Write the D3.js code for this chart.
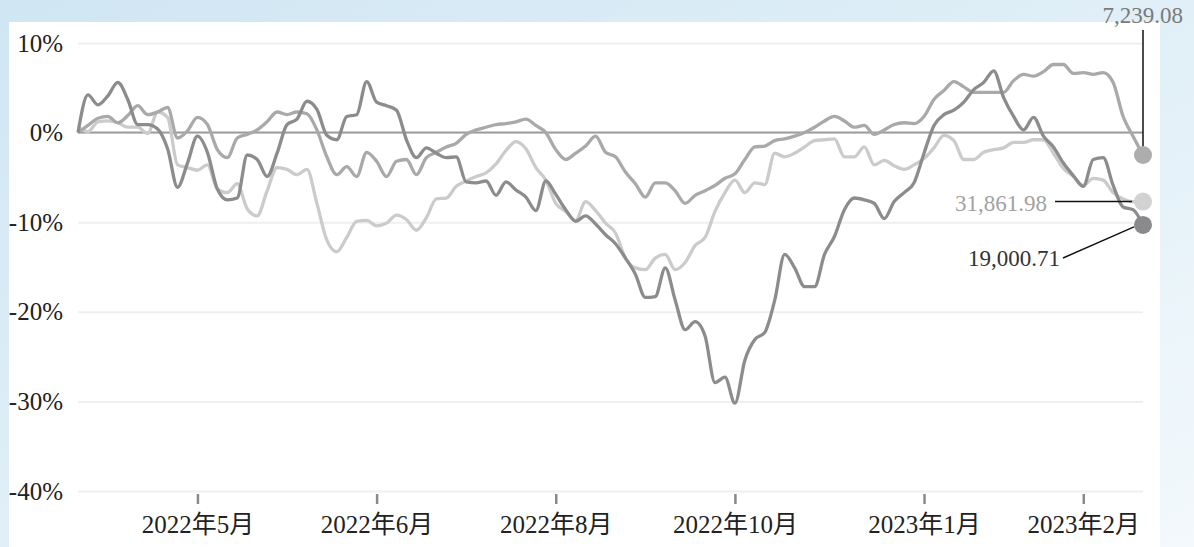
<!DOCTYPE html>
<html>
<head>
<meta charset="utf-8">
<script src="https://cdn.jsdelivr.net/npm/d3@7"></script>
<style>
  html, body { margin: 0; padding: 0; }
  body { width: 1194px; height: 547px; overflow: hidden; }
</style>
</head>
<body>
<div id="chart-area"></div>
<script>
// % change since start, one value per sampled trading day
const seriesDark = [0.0, 4.2, 3.1, 4.1, 5.6, 3.7, 0.9, 0.9, 0.4, -1.8,
  -6.1, -3.4, -0.4, -2.2, -6.3, -7.5, -7.3, -2.5, -3.0, -4.9,
  -2.3, 0.9, 1.5, 3.5, 2.6, -0.3, -0.8, 1.8, 2.0, 5.7,
  3.4, 3.0, 2.5, -0.8, -2.8, -1.7, -2.3, -2.8, -2.7, -5.5,
  -5.6, -5.4, -7.0, -5.5, -6.4, -7.2, -8.7, -5.4, -6.9, -8.6,
  -9.9, -9.3, -10.2, -11.4, -12.4, -14.0, -15.8, -18.4, -18.3, -15.1,
  -18.7, -22.0, -21.1, -22.7, -27.9, -27.3, -30.2, -25.4, -23.1, -22.3,
  -18.7, -13.6, -15.1, -17.2, -17.2, -13.6, -11.6, -8.6, -7.3, -7.5,
  -7.9, -9.6, -7.7, -6.7, -5.6, -2.3, 0.8, 2.0, 2.5, 3.4,
  4.8, 5.6, 6.9, 3.9, 1.8, 0.3, 1.7, -0.4, -1.6, -3.4,
  -4.8, -6.0, -3.0, -2.8, -5.9, -8.3, -8.6, -10.3];

const seriesMid = [0.0, 0.8, 1.6, 1.8, 1.1, 1.9, 3.0, 2.0, 2.3, 2.8,
  -0.6, 0.2, 1.7, 0.9, -1.9, -2.8, -0.6, -0.2, 0.3, 1.2,
  2.3, 2.0, 2.3, 2.1, 0.3, -2.7, -4.7, -3.8, -4.9, -2.2,
  -3.2, -4.9, -3.2, -3.0, -4.7, -2.8, -2.2, -1.6, -1.2, -0.2,
  0.3, 0.6, 0.9, 1.0, 1.2, 1.5, 0.8, 0.0, -1.9, -3.0,
  -2.3, -1.5, -0.4, -2.2, -2.7, -4.4, -5.7, -7.2, -5.6, -5.6,
  -6.5, -7.9, -7.0, -6.5, -5.9, -5.1, -4.6, -3.0, -1.6, -1.5,
  -0.9, -0.7, -0.4, 0.0, 0.6, 1.3, 1.8, 1.3, 0.6, 0.8,
  -0.2, 0.3, 0.9, 1.1, 1.0, 1.8, 3.7, 4.7, 5.7, 5.1,
  4.5, 4.5, 4.5, 4.5, 5.8, 6.5, 6.3, 6.8, 7.6, 7.6,
  6.6, 6.7, 6.5, 6.7, 5.6, 1.8, -0.4, -2.5];

const seriesLight = [0.6, 0.1, 1.2, 1.3, 1.1, 0.6, 0.6, -0.1, 2.3, 1.7,
  -3.6, -3.9, -4.2, -3.6, -6.3, -6.7, -5.7, -8.5, -9.3, -6.5,
  -3.9, -4.1, -4.7, -4.1, -7.9, -12.0, -13.3, -11.7, -9.9, -9.8,
  -10.4, -10.1, -9.2, -9.7, -10.9, -9.5, -7.4, -7.3, -6.0, -5.4,
  -4.9, -4.5, -3.5, -2.0, -1.0, -1.8, -3.9, -5.3, -7.9, -8.8,
  -9.8, -7.7, -8.7, -10.1, -11.2, -14.0, -15.1, -15.3, -14.0, -13.6,
  -15.3, -14.5, -12.6, -11.7, -8.8, -6.7, -5.3, -6.7, -5.6, -5.8,
  -2.3, -2.7, -2.3, -1.6, -0.9, -0.8, -0.7, -2.7, -2.7, -1.6,
  -3.6, -3.1, -3.7, -4.1, -3.6, -2.9, -1.7, -0.3, -0.9, -3.0,
  -3.0, -2.2, -1.9, -1.7, -1.1, -1.1, -0.8, -0.8, -2.3, -4.0,
  -4.9, -5.9, -5.1, -5.3, -6.7, -7.4, -7.7, -7.7];

const endLabels = ["19,000.71", "7,239.08", "31,861.98"];

const yTicks = [10, 0, -10, -20, -30, -40];
const xTickIndex = [12, 30, 48, 66, 85, 101];
const xTickLabels = ["2022年5月", "2022年6月", "2022年8月", "2022年10月", "2023年1月", "2023年2月"];

const width = 1194;
const height = 547;
const fontSerif = "'Liberation Serif', 'Noto Sans CJK SC', serif";

const svg = d3.select("#chart-area")
    .append("svg")
    .attr("width", width)
    .attr("height", height)
    .style("font-family", fontSerif);

// background
const defs = svg.append("defs");
const grad = defs.append("linearGradient")
    .attr("id", "bg")
    .attr("x1", 0).attr("y1", 0)
    .attr("x2", 1).attr("y2", 1);
grad.append("stop").attr("offset", "0%").attr("stop-color", "#d0e6f3");
grad.append("stop").attr("offset", "55%").attr("stop-color", "#e2f0f8");
grad.append("stop").attr("offset", "100%").attr("stop-color", "#f3f9fc");

svg.append("rect")
    .attr("width", width)
    .attr("height", height)
    .attr("fill", "url(#bg)");

svg.append("rect")
    .attr("x", 9).attr("y", 22)
    .attr("width", 1151).attr("height", 525)
    .attr("fill", "#ffffff");

const x = d3.scaleLinear()
    .domain([0, seriesDark.length - 1])
    .range([78, 1143]);

const y = d3.scaleLinear()
    .domain([-40, 10])
    .range([491, 43]);

// grid
const grid = svg.append("g")
    .attr("transform", "translate(78,0)")
    .call(d3.axisLeft(y).tickValues(yTicks).tickSize(-1065).tickFormat(""));
grid.select(".domain").remove();
grid.selectAll(".tick line")
    .attr("stroke", "#efefef")
    .attr("stroke-width", 2);

// y labels
const yAxis = svg.append("g")
    .attr("transform", "translate(63,0)")
    .call(d3.axisLeft(y).tickValues(yTicks).tickSize(0).tickPadding(0)
        .tickFormat(d => d + "%"));
yAxis.select(".domain").remove();
yAxis.selectAll("text")
    .attr("font-size", "25px")
    .attr("fill", "#222")
    .style("font-family", fontSerif);

// x axis
const xAxis = svg.append("g")
    .attr("transform", "translate(0,494)")
    .call(d3.axisBottom(x).tickValues(xTickIndex).tickSize(10).tickPadding(11)
        .tickFormat((d, i) => xTickLabels[i]));
xAxis.select(".domain").remove();
xAxis.selectAll(".tick line")
    .attr("stroke", "#8a8a8a")
    .attr("stroke-width", 2.5);
xAxis.selectAll("text")
    .attr("font-size", "25px")
    .attr("fill", "#222")
    .style("font-family", fontSerif);

// zero line
svg.append("line")
    .attr("x1", 78).attr("x2", 1143)
    .attr("y1", y(0)).attr("y2", y(0))
    .attr("stroke", "#9c9c9c")
    .attr("stroke-width", 2);

const line = d3.line()
    .x((d, i) => x(i))
    .y(d => y(d))
    .curve(d3.curveMonotoneX);

const series = [
    { values: seriesLight, color: "#cbcbcb", dot: "#d2d2d2" },
    { values: seriesMid, color: "#a9a9a9", dot: "#adadad" },
    { values: seriesDark, color: "#8c8c8e", dot: "#8a8a8c" }
];

svg.selectAll(".series")
    .data(series)
    .enter().append("path")
    .attr("class", "series")
    .attr("d", d => line(d.values))
    .attr("fill", "none")
    .attr("stroke", d => d.color)
    .attr("stroke-width", 3.3)
    .attr("stroke-linejoin", "round");

// end labels with leader lines
const last = seriesDark.length - 1;
const ann = svg.append("g");

// 7,239.08 (mid)
ann.append("line")
    .attr("x1", 1143).attr("x2", 1143)
    .attr("y1", 30).attr("y2", y(seriesMid[last]) - 8)
    .attr("stroke", "#111").attr("stroke-width", 1.5);
ann.append("text")
    .attr("x", 1183).attr("y", 23)
    .attr("text-anchor", "end")
    .attr("font-size", "23px")
    .attr("fill", "#7a7a7a")
    .text(endLabels[1]);

// 31,861.98 (light)
ann.append("line")
    .attr("x1", 1055).attr("x2", 1132)
    .attr("y1", y(seriesLight[last])).attr("y2", y(seriesLight[last]))
    .attr("stroke", "#111").attr("stroke-width", 1.5);
ann.append("text")
    .attr("x", 1047).attr("y", 211)
    .attr("text-anchor", "end")
    .attr("font-size", "23px")
    .attr("fill", "#a2a2a2")
    .text(endLabels[2]);

// 19,000.71 (dark)
ann.append("line")
    .attr("x1", 1063).attr("x2", 1134)
    .attr("y1", 258).attr("y2", y(seriesDark[last]) + 2)
    .attr("stroke", "#111").attr("stroke-width", 1.5);
ann.append("text")
    .attr("x", 1060).attr("y", 266)
    .attr("text-anchor", "end")
    .attr("font-size", "23px")
    .attr("fill", "#333")
    .text(endLabels[0]);

// end dots
svg.selectAll(".dot")
    .data(series)
    .enter().append("circle")
    .attr("class", "dot")
    .attr("cx", x(last))
    .attr("cy", d => y(d.values[last]))
    .attr("r", 9)
    .attr("fill", d => d.dot);
</script>
</body>
</html>
